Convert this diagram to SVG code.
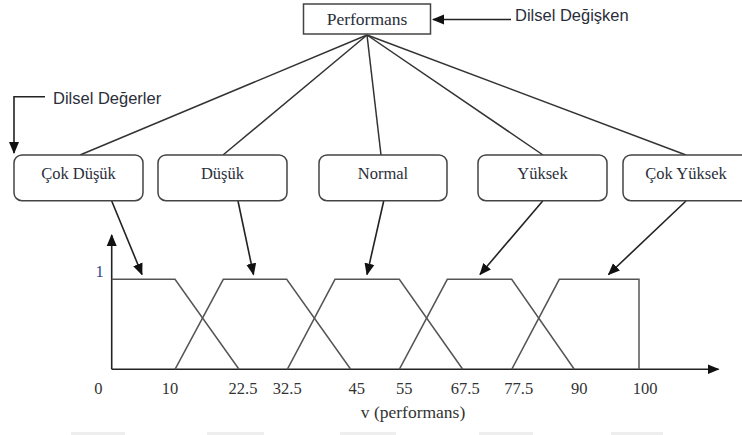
<svg xmlns="http://www.w3.org/2000/svg" width="742" height="435" viewBox="0 0 742 435">
<style>
.box{fill:#fff;stroke:#444;stroke-width:1.5}
.lbl{font-family:"Liberation Serif","Times New Roman",serif;font-size:16.5px;fill:#2a2e3a;text-anchor:middle}
.side{font-family:"Liberation Sans",Arial,sans-serif;font-size:16.5px;fill:#2a2e3a}
.tick{font-family:"Liberation Serif","Times New Roman",serif;font-size:16.5px;fill:#333;text-anchor:middle}
.ln{stroke:#333;stroke-width:1.5;fill:none}
.arr{stroke:#222;stroke-width:1.6;fill:none;marker-end:url(#ah)}
.mf{stroke:#555;stroke-width:1.5;fill:none}
</style>
<defs>
<marker id="ah" markerUnits="userSpaceOnUse" markerWidth="12" markerHeight="12" viewBox="0 0 12 12" refX="11" refY="6" orient="auto">
<path d="M0,1 L12,6 L0,11 Z" fill="#111"/>
</marker>
</defs>
<rect width="742" height="435" fill="#fff"/>
<g id="connectors">
<line class="ln" x1="367" y1="35" x2="80" y2="155"/>
<line class="ln" x1="367" y1="35" x2="223" y2="155"/>
<line class="ln" x1="367" y1="35" x2="381" y2="155"/>
<line class="ln" x1="367" y1="35" x2="543" y2="155"/>
<line class="ln" x1="367" y1="35" x2="686" y2="155"/>
<line class="arr" x1="511" y1="19.5" x2="433" y2="19.5"/>
<path class="arr" d="M45,96.7 L14,96.7 L14,153"/>
<line class="arr" x1="111.7" y1="201" x2="142" y2="274.5"/>
<line class="arr" x1="238" y1="201" x2="253.5" y2="274.5"/>
<line class="arr" x1="383.7" y1="201" x2="367" y2="274.5"/>
<line class="arr" x1="542.7" y1="201" x2="480" y2="274.5"/>
<line class="arr" x1="686" y1="201" x2="608.5" y2="274.5"/>
</g>
<g id="performans">
<rect class="box" x="303.5" y="4" width="127" height="30"/>
<text class="lbl" x="367" y="25" style="font-size:17.5px">Performans</text>
</g>
<g id="dilsel-degisken"><text class="side" x="515" y="21">Dilsel Değişken</text></g>
<g id="dilsel-degerler"><text class="side" x="53" y="104">Dilsel Değerler</text></g>
<g id="cok-dusuk"><rect class="box" x="14" y="155" width="129" height="45.7" rx="8"/><text class="lbl" x="78.5" y="179">Çok Düşük</text></g>
<g id="dusuk"><rect class="box" x="158" y="155" width="129" height="45.7" rx="8"/><text class="lbl" x="222.5" y="179">Düşük</text></g>
<g id="normal"><rect class="box" x="319" y="155" width="128" height="45.7" rx="8"/><text class="lbl" x="383" y="179">Normal</text></g>
<g id="yuksek"><rect class="box" x="478" y="155" width="129" height="45.7" rx="8"/><text class="lbl" x="542.5" y="179">Yüksek</text></g>
<g id="cok-yuksek"><rect class="box" x="623" y="155" width="129" height="45.7" rx="8"/><text class="lbl" x="686" y="179">Çok Yüksek</text></g>
<g id="chart">
<line class="arr" x1="111.7" y1="369.3" x2="111.7" y2="235"/>
<line class="arr" x1="111.7" y1="369.3" x2="718.5" y2="369.3"/>
<polyline class="mf" points="111.7,279.3 175,279.3 239,369.3"/>
<polyline class="mf" points="175,369.3 223.3,279.3 286.7,279.3 350.7,369.3"/>
<polyline class="mf" points="287.3,369.3 335,279.3 399.3,279.3 462.7,369.3"/>
<polyline class="mf" points="399.3,369.3 447.3,279.3 511.7,279.3 574.3,369.3"/>
<polyline class="mf" points="511.7,369.3 559.3,279.3 639,279.3 639,369.3"/>
<text class="tick" x="99.5" y="277" style="fill:#2f4a8a">1</text>
<text class="tick" x="98.3" y="394">0</text>
<text class="tick" x="170" y="394">10</text>
<text class="tick" x="243" y="394">22.5</text>
<text class="tick" x="287.3" y="394">32.5</text>
<text class="tick" x="356.7" y="394">45</text>
<text class="tick" x="404.3" y="394">55</text>
<text class="tick" x="465.3" y="394">67.5</text>
<text class="tick" x="518.7" y="394">77.5</text>
<text class="tick" x="579.3" y="394">90</text>
<text class="tick" x="645" y="394">100</text>
<text class="tick" x="413" y="418" style="font-size:17.5px">v (performans)</text>
</g>
<g id="bottom-marks" fill="#eee">
<rect x="71" y="432" width="54" height="3"/>
<rect x="207" y="432" width="57" height="3"/>
<rect x="340" y="432" width="56" height="3"/>
<rect x="479" y="432" width="54" height="3"/>
<rect x="611" y="432" width="52" height="3"/>
</g>
</svg>
